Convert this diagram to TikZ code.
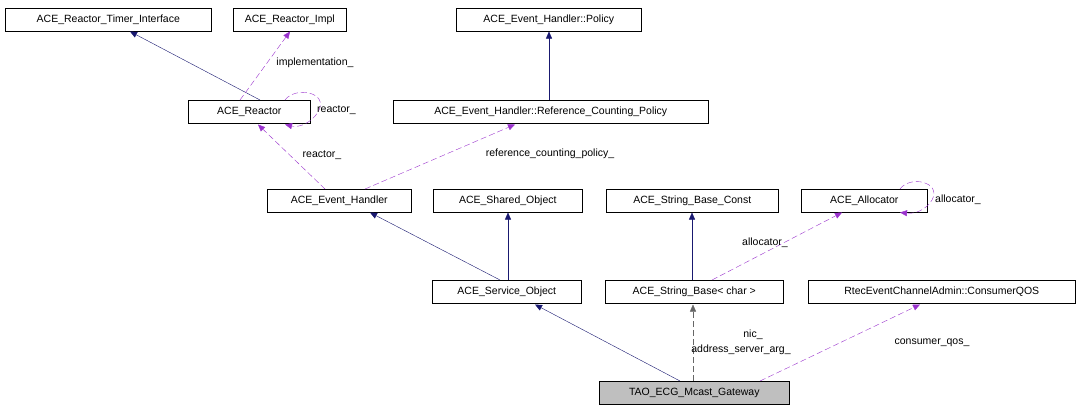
\documentclass[tikz,border=0pt]{standalone}
\usepackage{fontspec}
\setmainfont{Liberation Sans}
\usetikzlibrary{arrows.meta}
\definecolor{inh}{HTML}{191970}
\definecolor{use}{HTML}{9A32CD}
\begin{document}
\begin{tikzpicture}[x=1pt,y=-1pt,font=\fontsize{10.5}{12}\selectfont,
  box/.style={draw,line width=0.6pt,minimum height=23pt,inner sep=1pt,anchor=north west},
  inhe/.style={draw=inh,-{Triangle[length=7pt,width=6pt]}},
  usee/.style={draw=use,dashed,dash pattern=on 6pt off 3pt,-{Triangle[length=7pt,width=6pt]}},
  lbl/.style={inner sep=1pt}]
\useasboundingbox (0,0) rectangle (1081,413);
\node[box,minimum width=206pt] (rti) at (5,8) {ACE\_Reactor\_Timer\_Interface};
\node[box,minimum width=113pt] (rimpl) at (233,8) {ACE\_Reactor\_Impl};
\node[box,minimum width=185pt] (pol) at (456,8) {ACE\_Event\_Handler::Policy};
\node[box,minimum width=122pt] (re) at (188,100) {ACE\_Reactor};
\node[box,minimum width=315pt] (rcp) at (393,100) {ACE\_Event\_Handler::Reference\_Counting\_Policy};
\node[box,minimum width=144pt] (eh) at (267,189) {ACE\_Event\_Handler};
\node[box,minimum width=149pt] (so) at (433,189) {ACE\_Shared\_Object};
\node[box,minimum width=172pt] (sbc) at (606,189) {ACE\_String\_Base\_Const};
\node[box,minimum width=126pt] (al) at (801,189) {ACE\_Allocator};
\node[box,minimum width=149pt] (svc) at (432,280) {ACE\_Service\_Object};
\node[box,minimum width=178pt] (sb) at (605,280) {ACE\_String\_Base< char >};
\node[box,minimum width=267pt] (qos) at (808,280) {RtecEventChannelAdmin::ConsumerQOS};
\node[box,minimum width=190pt,fill=black!25] (gw) at (599,381) {TAO\_ECG\_Mcast\_Gateway};

\draw[inhe] (260,100) -- (130,31.5);
\draw[usee] (240,100) -- (290,31.5);
\node[lbl] at (315,63) {implementation\_};
\draw[usee] (285,100) .. controls (295,86) and (330,92) .. (318,112) .. controls (312,122) and (300,128) .. (285,124.5);
\node[lbl,anchor=west] at (316,110) {reactor\_};
\draw[usee] (325,189) -- (258,124.5);
\node[lbl] at (322,155) {reactor\_};
\draw[usee] (365,189) -- (515,124.5);
\node[lbl] at (550,154) {reference\_counting\_policy\_};
\draw[inhe] (549,100) -- (549,31.5);
\draw[inhe] (500,280) -- (370,212.5);
\draw[inhe] (508,280) -- (508,212.5);
\draw[inhe] (692,280) -- (692,212.5);
\draw[usee] (712,280) -- (842,212.5);
\node[lbl] at (765,243) {allocator\_};
\draw[usee] (900,189) .. controls (910,175) and (942,182) .. (932,200) .. controls (926,210) and (915,214) .. (900,212.5);
\node[lbl,anchor=west] at (934,200) {allocator\_};
\draw[inhe] (680,381) -- (535,304.5);
\draw[usee,draw=black!60] (693,381) -- (693,304.5);
\node[lbl] at (753,335) {nic\_};
\node[lbl] at (741,350) {address\_server\_arg\_};
\draw[usee] (760,381) -- (920,304.5);
\node[lbl] at (932,343) {consumer\_qos\_};
\end{tikzpicture}
\end{document}
